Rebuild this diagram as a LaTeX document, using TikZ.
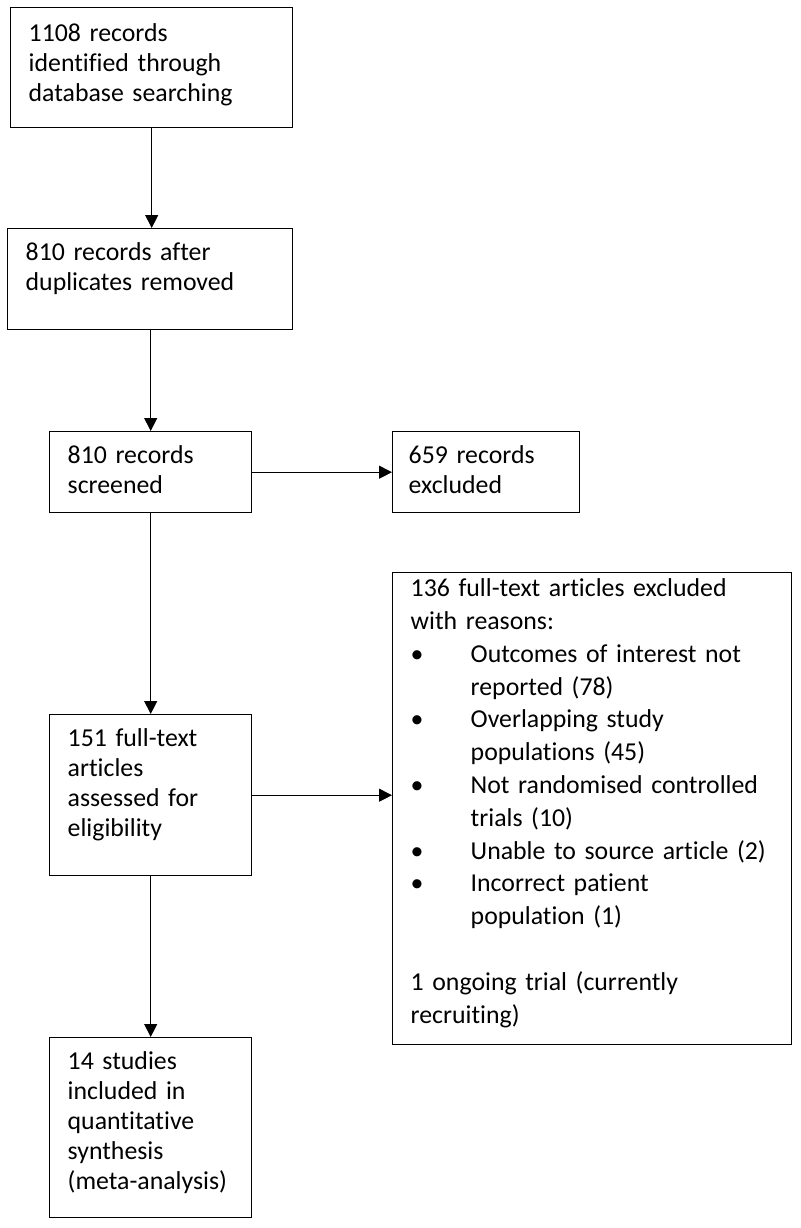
\documentclass[tikz,border=0pt]{standalone}
\usepackage{fontspec}
\setmainfont{Carlito}[Ligatures=NoCommon]
\usetikzlibrary{arrows.meta}
\newcommand{\flowItem}[1]{\hangindent=60pt\hangafter=1\noindent\makebox[60pt][l]{\textbullet}#1\par}
\tikzset{
	flowBox/.style 2 args={
		draw
		,line width=1.4pt
		,anchor=north west
		,align=left
		,inner xsep=18pt
		,inner ysep=0pt
		,text width=#1
		,text height=32pt
		,text depth=#2
		,font=\fontsize{25.8}{30}\selectfont
	},
	flowArrow/.style={
		draw
		,line width=1pt
		,-{Triangle[length=13pt,width=13pt]}
	},
}
\begin{document}
\begin{tikzpicture}[x=1pt, y=-1pt]
\useasboundingbox (0,0) rectangle (800,1228);
\node[flowBox={246pt}{86pt}, text height=34pt] (ident) at (10,7) {1108 records\\identified through\\database searching};
\node[flowBox={249pt}{69pt}] (dedup) at (7,228) {810 records after\\duplicates removed};
\node[flowBox={166pt}{49pt}] (screen) at (49,431) {810 records\\screened};
\node[flowBox={155pt}{49pt}, inner xsep=16pt] (screenExcl) at (392,431) {659 records\\excluded};
\node[flowBox={166pt}{129pt}] (full) at (49,714) {151 full-text\\articles\\assessed for\\eligibility};
% exclusion reasons
\node[flowBox={363pt}{448pt}, text height=24pt, font=\fontsize{25.8}{32.8}\selectfont] (fullExcl) at (392,572) {%
    136 full-text articles excluded\\with reasons:\par
    \flowItem{Outcomes of interest not\newline reported (78)}
    \flowItem{Overlapping study\newline populations (45)}
    \flowItem{Not randomised controlled\newline trials (10)}
    \flowItem{Unable to source article (2)}
    \flowItem{Incorrect patient\newline population (1)}
    \vspace{\baselineskip}
    1 ongoing trial (currently\\recruiting)};
\node[flowBox={166pt}{148pt}] (incl) at (49,1037) {14 studies\\included in\\quantitative\\synthesis\\(meta-analysis)};
% arrows
\draw[flowArrow] (ident.south) -- (ident.south |- dedup.north);
\draw[flowArrow] (dedup.south -| screen.north) -- (screen.north);
\draw[flowArrow] (screen.east) -- (screenExcl.west);
\draw[flowArrow] (screen.south) -- (full.north);
\draw[flowArrow] (full.east) -- (full.east -| fullExcl.west);
\draw[flowArrow] (full.south) -- (incl.north);
\end{tikzpicture}
\end{document}
